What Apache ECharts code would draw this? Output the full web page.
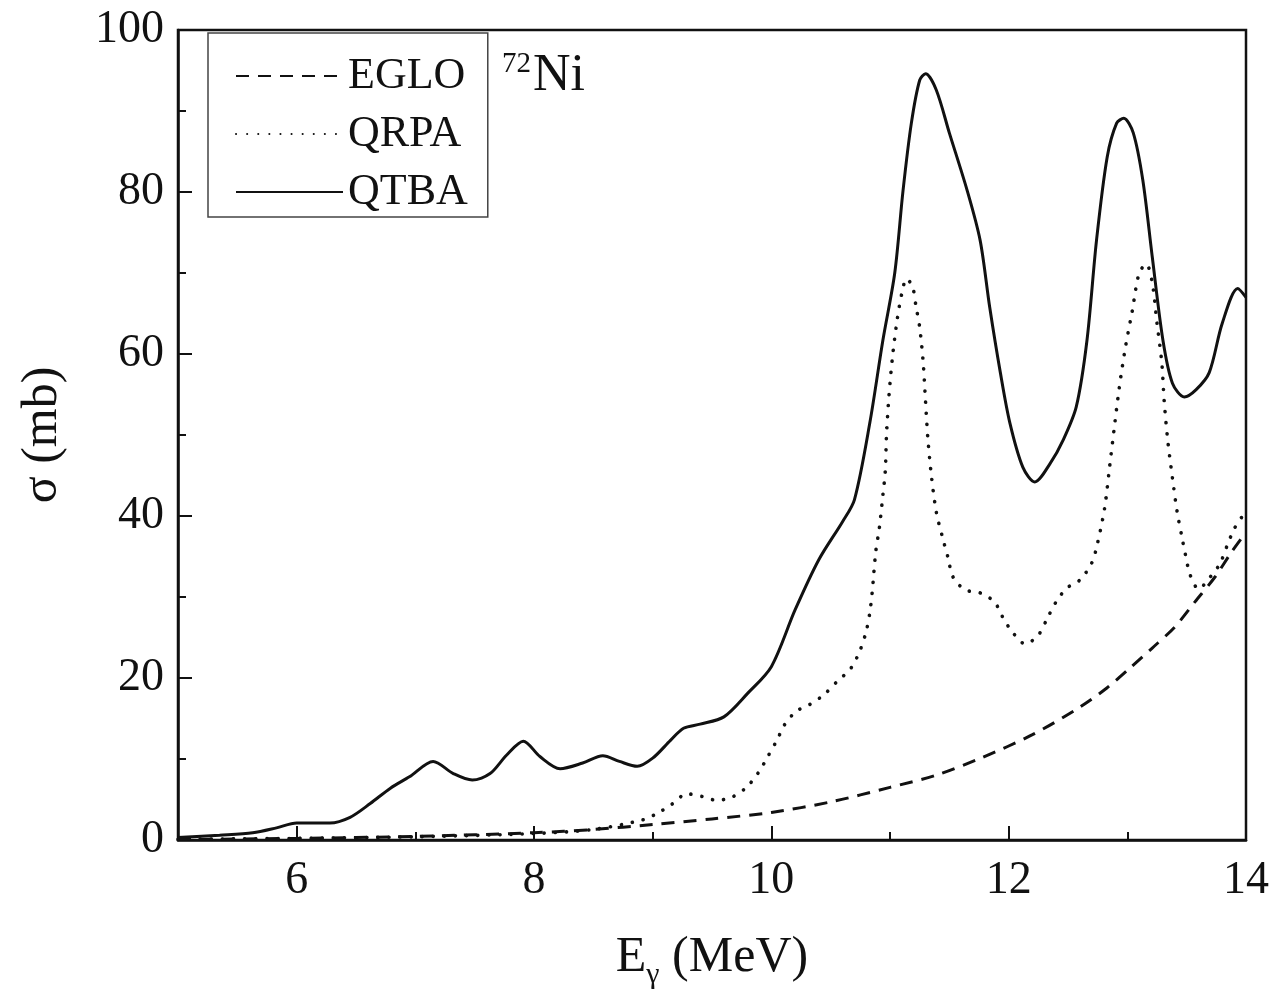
<!DOCTYPE html>
<html>
<head>
<meta charset="utf-8">
<script src="https://cdn.jsdelivr.net/npm/echarts@6/dist/echarts.min.js"></script>
<style>html,body{margin:0;padding:0;background:#fff}#c{width:1274px;height:1000px}</style>
</head>
<body>
<div id="c"></div>
<script>
// ---- data ----
const egloE = [5.0, 6.0, 7.0, 8.0, 8.5, 9.0, 9.5, 10.0, 10.5, 11.0, 11.39, 11.78, 12.2, 12.6, 12.83, 13.02, 13.21, 13.4, 13.57, 13.74, 13.88, 14.0];
const egloS = [0.05, 0.2, 0.45, 0.9, 1.3, 1.9, 2.6, 3.4, 4.7, 6.5, 8.0, 10.2, 13.0, 16.4, 18.8, 21.2, 23.7, 26.3, 29.4, 32.5, 35.6, 38.0];

const qrpaE = [5.0, 6.0, 7.0, 8.0, 8.5, 8.92, 9.04, 9.16, 9.29, 9.41, 9.54, 9.67, 9.79, 9.89, 9.97, 10.05, 10.11, 10.21, 10.32, 10.44, 10.55, 10.67, 10.75, 10.80, 10.83, 10.85, 10.88, 10.91, 10.94, 10.96, 10.97, 10.99, 11.02, 11.06, 11.10, 11.14, 11.19, 11.22, 11.25, 11.28, 11.30, 11.32, 11.35, 11.39, 11.44, 11.49, 11.53, 11.63, 11.76, 11.88, 11.95, 12.03, 12.14, 12.25, 12.33, 12.40, 12.49, 12.60, 12.70, 12.75, 12.81, 12.85, 12.89, 12.93, 12.98, 13.04, 13.10, 13.16, 13.21, 13.25, 13.29, 13.31, 13.34, 13.38, 13.42, 13.46, 13.49, 13.53, 13.60, 13.70, 13.78, 13.84, 13.90, 13.98, 14.0];
const qrpaS = [0.1, 0.2, 0.4, 0.8, 1.3, 2.5, 3.3, 4.4, 5.7, 5.4, 4.9, 5.3, 6.5, 8.3, 10.3, 12.4, 14.2, 15.9, 16.7, 17.9, 19.5, 21.2, 23.5, 25.8, 28.1, 30.6, 35.6, 38.5, 42.6, 45.5, 49.8, 54.6, 59.5, 64.2, 67.5, 69.3, 68.3, 65.8, 63.3, 58.9, 54.0, 49.4, 44.8, 40.5, 37.5, 34.8, 32.5, 30.9, 30.5, 29.4, 27.5, 25.7, 24.2, 25.3, 27.5, 29.4, 31.1, 32.1, 34.2, 36.7, 41.1, 46.0, 50.9, 55.6, 60.5, 65.2, 70.0, 71.1, 68.8, 63.8, 59.0, 54.3, 49.4, 44.7, 40.5, 37.4, 35.2, 32.7, 31.0, 32.5, 34.1, 36.3, 38.4, 40.2, 40.6];

const qtbaE = [5.0, 5.35, 5.63, 5.83, 6.0, 6.28, 6.45, 6.62, 6.79, 6.95, 7.15, 7.32, 7.48, 7.63, 7.77, 7.91, 8.05, 8.22, 8.41, 8.58, 8.72, 8.87, 9.0, 9.15, 9.26, 9.4, 9.6, 9.8, 10.0, 10.2, 10.4, 10.6, 10.7, 10.83, 10.94, 11.04, 11.11, 11.18, 11.25, 11.30, 11.39, 11.50, 11.65, 11.76, 11.84, 11.93, 12.01, 12.12, 12.22, 12.35, 12.46, 12.57, 12.66, 12.74, 12.83, 12.91, 12.97, 13.05, 13.13, 13.21, 13.30, 13.38, 13.48, 13.58, 13.69, 13.80, 13.93, 14.0];
const qtbaS = [0.3, 0.6, 0.9, 1.5, 2.1, 2.1, 2.8, 4.5, 6.4, 7.8, 9.7, 8.2, 7.4, 8.2, 10.5, 12.2, 10.3, 8.8, 9.5, 10.4, 9.7, 9.1, 10.1, 12.3, 13.8, 14.3, 15.2, 18.1, 21.4, 28.4, 34.6, 39.3, 42.0, 51.5, 61.7, 70.0, 80.2, 88.5, 93.8, 94.6, 92.6, 87.3, 80.2, 74.0, 65.8, 57.7, 51.5, 46.0, 44.2, 46.5, 49.4, 53.5, 61.7, 74.0, 84.3, 88.5, 89.1, 87.3, 81.5, 72.0, 61.7, 56.4, 54.7, 55.6, 57.7, 63.8, 68.1, 67.0];

const seriesNames = ['EGLO', 'QRPA', 'QTBA'];
const xLabelTicks = [6, 8, 10, 12, 14];
const xMinorTicks = [7, 9, 11, 13];

function pairs(xs, ys) { return xs.map((x, i) => [x, ys[i]]); }

const FONT = '"Liberation Serif", "Times New Roman", serif';
const INK = '#111';

const chart = echarts.init(document.getElementById('c'), null, {renderer: 'canvas'});
chart.setOption({
  animation: false,
  backgroundColor: '#fff',
  grid: {left: 178, right: 28, top: 30, bottom: 160, show: true, borderColor: INK, borderWidth: 2.5,
         backgroundColor: 'transparent', outerBoundsMode: 'none', containLabel: false},
  title: {
    text: '{s|72}{n|Ni}',
    left: 497, top: 45,
    textStyle: {
      fontWeight: 'normal',
      rich: {
        s: {fontFamily: FONT, fontSize: 29, fontWeight: 'normal', color: INK, padding: [0, 2, 24, 0]},
        n: {fontFamily: FONT, fontSize: 52, fontWeight: 'normal', color: INK}
      }
    }
  },
  legend: {
    data: seriesNames,
    orient: 'vertical',
    left: 208, top: 33,
    itemWidth: 107, itemHeight: 20, itemGap: 12, itemTextGap: 14,
    padding: [20, 20, 2, 27],
    borderColor: '#444', borderWidth: 1.5,
    backgroundColor: '#fff',
    itemStyle: {opacity: 0},
    textStyle: {fontFamily: FONT, fontSize: 44, color: INK, lineHeight: 46}
  },
  xAxis: [{
    type: 'value', min: 5, max: 14, interval: 1,
    name: '{e|E}{g|γ}{e| (MeV)}',
    nameLocation: 'middle', nameGap: 86,
    nameTextStyle: {
      rich: {
        e: {fontFamily: FONT, fontSize: 50, color: INK},
        g: {fontFamily: FONT, fontSize: 30, color: INK, padding: [34, 0, 0, 0]}
      }
    },
    axisLine: {show: true, lineStyle: {color: INK, width: 2.5}},
    axisTick: {show: true, inside: true, length: 14, customValues: xLabelTicks, lineStyle: {color: INK, width: 2}},
    axisLabel: {customValues: xLabelTicks, fontFamily: FONT, fontSize: 46, color: INK, margin: 18},
    splitLine: {show: false}
  }, {
    type: 'value', min: 5, max: 14, interval: 1, position: 'bottom',
    axisLine: {show: false},
    axisTick: {show: true, inside: true, length: 8, customValues: xMinorTicks, lineStyle: {color: INK, width: 2}},
    axisLabel: {show: false},
    splitLine: {show: false}
  }],
  yAxis: {
    type: 'value', min: 0, max: 100, interval: 20,
    name: 'σ (mb)', nameLocation: 'middle', nameGap: 110, nameRotate: 90,
    nameTextStyle: {fontFamily: FONT, fontSize: 50, color: INK},
    axisLine: {show: true, lineStyle: {color: INK, width: 2.5}},
    axisTick: {show: true, inside: true, length: 14, lineStyle: {color: INK, width: 2}},
    minorTick: {show: true, splitNumber: 2, length: 8, lineStyle: {color: INK, width: 2}},
    axisLabel: {fontFamily: FONT, fontSize: 46, color: INK, margin: 14},
    splitLine: {show: false}
  },
  series: [{
    name: seriesNames[0], type: 'line', data: pairs(egloE, egloS), symbol: 'none', smooth: 0.3,
    lineStyle: {color: INK, width: 3, type: [13, 9]}, itemStyle: {color: INK}
  }, {
    name: seriesNames[1], type: 'line', data: pairs(qrpaE, qrpaS), symbol: 'none', smooth: 0.3,
    lineStyle: {color: INK, width: 3.6, type: [0.1, 11], cap: 'round'}, itemStyle: {color: INK}
  }, {
    name: seriesNames[2], type: 'line', data: pairs(qtbaE, qtbaS), symbol: 'none', smooth: 0.3,
    lineStyle: {color: INK, width: 3}, itemStyle: {color: INK}
  }]
});
</script>
</body>
</html>
